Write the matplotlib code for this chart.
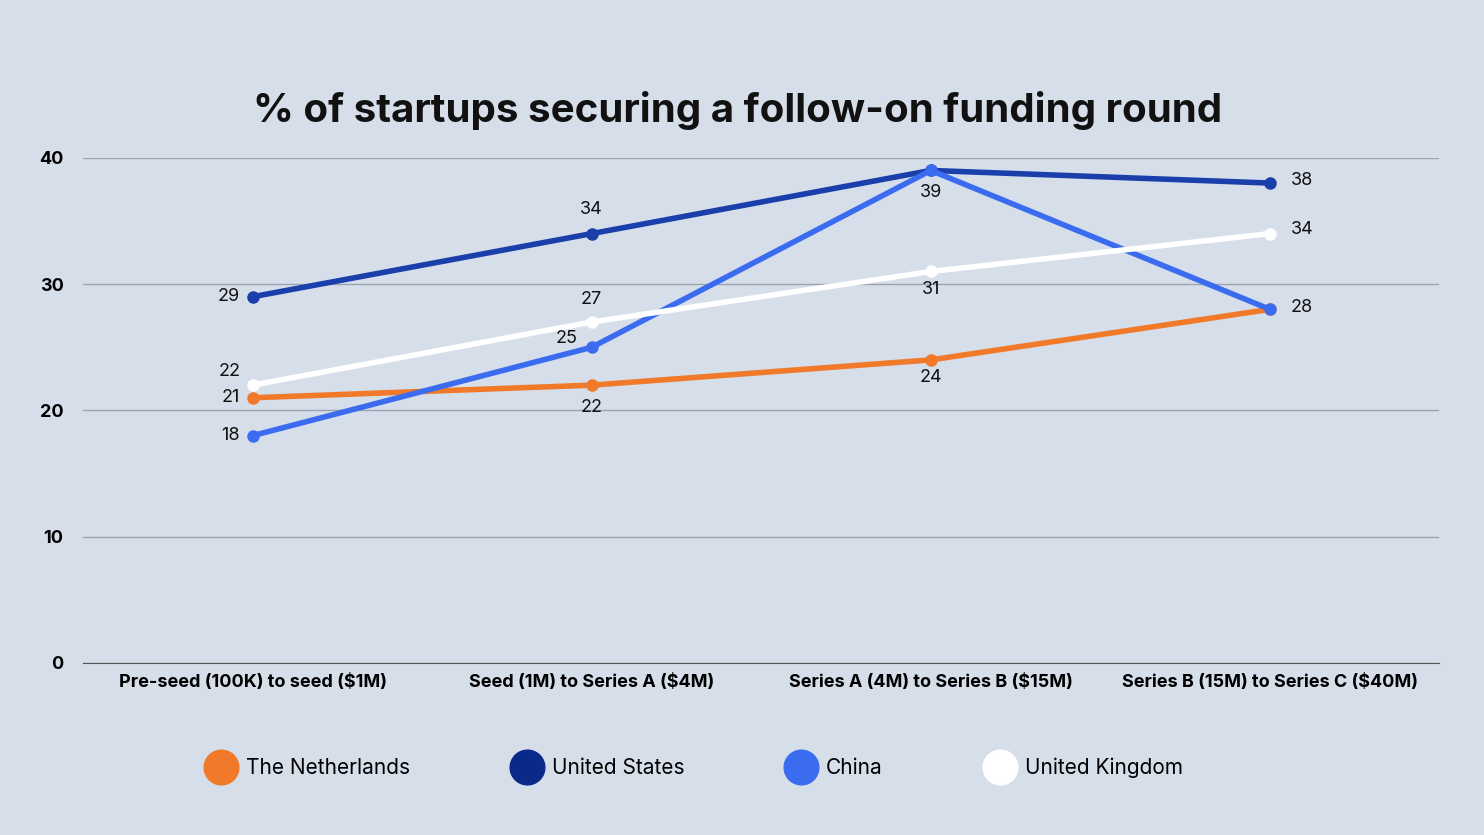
import matplotlib.pyplot as plt
from matplotlib.lines import Line2D

plt.rcParams['font.family'] = ['Inter', 'DejaVu Sans']

stages = ['Pre-seed (100K) to seed ($1M)', 'Seed (1M) to Series A ($4M)',
          'Series A (4M) to Series B ($15M)', 'Series B (15M) to Series C ($40M)']
netherlands = [21, 22, 24, 28]
united_states = [29, 34, 39, 38]
china = [18, 25, 39, 28]
united_kingdom = [22, 27, 31, 34]

bg = '#d6deea'
c_nl, c_us, c_cn, c_uk = '#f07a2a', '#1a3faa', '#3b6cf0', '#ffffff'

fig = plt.figure(figsize=(14.84, 8.35), dpi=100, facecolor=bg)
ax = fig.add_axes([0.056, 0.206, 0.914, 0.605], facecolor=bg)
x = range(len(stages))

series = [(netherlands, c_nl), (united_states, c_us), (china, c_cn), (united_kingdom, c_uk)]
for vals, col in series:
    ax.plot(x, vals, color=col, lw=4, marker='o', ms=8, solid_capstyle='round')

# label placement: (series, index, dx, dy, ha)
labels = [
    (netherlands, 0, -9, 0, 'right'), (netherlands, 1, 0, -16, 'center'),
    (netherlands, 2, 0, -13, 'center'),
    (united_states, 0, -9, 0, 'right'), (united_states, 1, 0, 17, 'center'),
    (united_states, 3, 15, 2, 'left'),
    (china, 0, -9, 0, 'right'), (china, 1, -10, 6, 'right'),
    (china, 2, 0, -16, 'center'), (china, 3, 15, 1, 'left'),
    (united_kingdom, 0, -9, 10, 'right'), (united_kingdom, 1, 0, 16, 'center'),
    (united_kingdom, 2, 0, -13, 'center'), (united_kingdom, 3, 15, 3, 'left'),
]
for vals, i, dx, dy, ha in labels:
    ax.annotate(str(vals[i]), (i, vals[i]), xytext=(dx, dy), textcoords='offset points',
                ha=ha, va='center', fontsize=13, color='#111111')

ax.set_xlim(-0.5, 3.5)
ax.set_ylim(0, 40)
ax.set_yticks([0, 10, 20, 30, 40])
ax.set_xticks(list(x))
ax.set_xticklabels(stages, fontsize=13, fontweight='bold')
ax.tick_params(axis='y', labelsize=13, length=0, pad=14)
ax.tick_params(axis='x', length=0, pad=8)
for t in ax.get_yticklabels():
    t.set_fontweight('bold')
ax.grid(axis='y', color='#9aa3b0', lw=1)
ax.set_axisbelow(True)
for s in ['top', 'right', 'left']:
    ax.spines[s].set_visible(False)
ax.spines['bottom'].set_color('#555555')

fig.text(0.497, 0.868, '% of startups securing a follow-on funding round',
         ha='center', va='center', fontsize=29, fontweight='bold', color='#111111')

names = ['The Netherlands', 'United States', 'China', 'United Kingdom']
cols = ['#f07a2a', '#0a2a8a', c_cn, c_uk]
handles = [Line2D([], [], ls='none', marker='o', ms=25, color=c, mec=c) for c in cols]
fig.legend(handles, names, loc='center', bbox_to_anchor=(0.466, 0.08), ncol=4,
           frameon=False, fontsize=15, columnspacing=4.6, handletextpad=0.2)

fig.savefig('out.png', dpi=100, facecolor=bg)
